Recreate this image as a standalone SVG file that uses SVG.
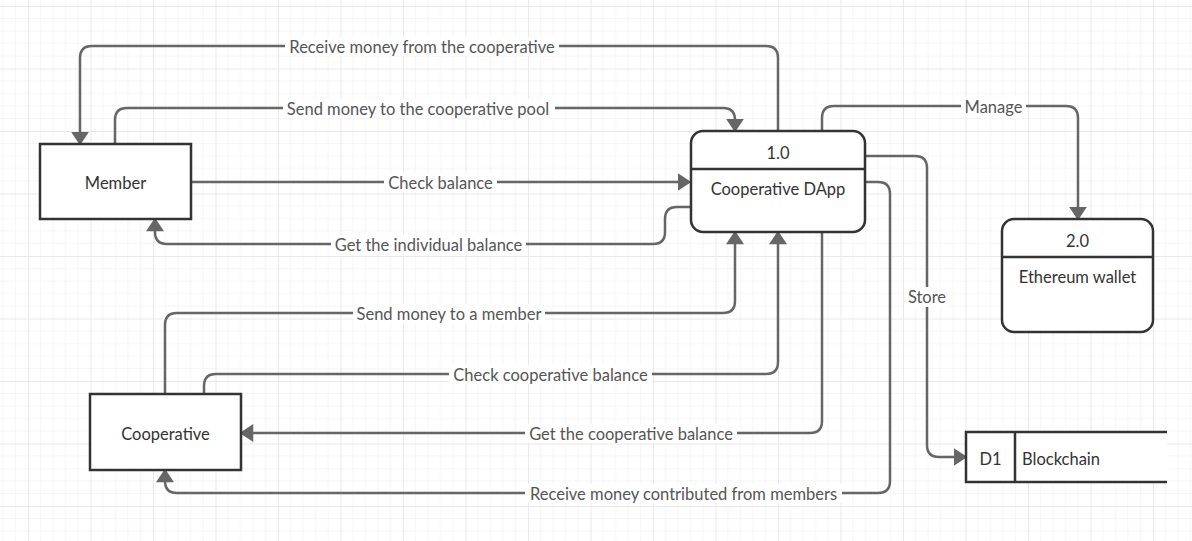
<svg xmlns="http://www.w3.org/2000/svg" width="1192" height="541" viewBox="0 0 1192 541">
<defs>
<pattern id="grid" x="28" y="6" width="62.5" height="62.5" patternUnits="userSpaceOnUse">
<path d="M12.5,0V62.5M25,0V62.5M37.5,0V62.5M50,0V62.5M0,12.5H62.5M0,25H62.5M0,37.5H62.5M0,50H62.5" stroke="#f5f5f5" stroke-width="1" fill="none"/>
<path d="M0.5,0V62.5M0,0.5H62.5" stroke="#e9e9e9" stroke-width="1" fill="none"/>
</pattern>
<marker id="arr" markerUnits="userSpaceOnUse" markerWidth="14" markerHeight="18" viewBox="0 0 12 16" refX="2" refY="8" orient="auto">
<path d="M0,0L12,8L0,16z" fill="#666"/>
</marker>
<style>
.box{fill:#fff;stroke:#333;stroke-width:2.5}
.c{fill:none;stroke:#666;stroke-width:2.5;marker-end:url(#arr)}
.nt{font-family:Lato,"Liberation Sans",sans-serif;font-size:16.5px;fill:#333;text-anchor:middle}
.lt{font-family:Lato,"Liberation Sans",sans-serif;font-size:16.5px;fill:#555;text-anchor:middle}
.bg{fill:#fff}
</style>
</defs>
<rect width="1192" height="541" fill="#fff"/>
<rect width="1192" height="541" fill="url(#grid)"/>
<g id="connectors">
<path class="c" d="M778,131V58Q778,46 766,46H92Q80,46 80,58V134"/>
<path class="c" d="M115,144V120Q115,108 127,108H723Q735,108 735,120V121"/>
<path class="c" d="M191,182H680"/>
<path class="c" d="M690,207H677Q665,207 665,219V232Q665,244 653,244H167Q155,244 155,232V229"/>
<path class="c" d="M165,394V325Q165,313 177,313H723Q735,313 735,301V242"/>
<path class="c" d="M204,394V386Q204,374 216,374H766Q778,374 778,362V242"/>
<path class="c" d="M822,232V421Q822,433 810,433H251"/>
<path class="c" d="M865,182H878Q890,182 890,194V481Q890,493 878,493H177Q165,493 165,481V480"/>
<path class="c" d="M865,156H915Q927,156 927,168V445Q927,457 939,457H956"/>
<path class="c" d="M822,131V118Q822,106 834,106H1066Q1078,106 1078,118V209"/>
<g id="labels">
<rect class="bg" x="285" y="37" width="274" height="19"/><text class="lt" x="422" y="53">Receive money from the cooperative</text>
<rect class="bg" x="283" y="99" width="272" height="19"/><text class="lt" x="418" y="115">Send money to the cooperative pool</text>
<rect class="bg" x="384" y="173" width="113" height="19"/><text class="lt" x="440.5" y="189">Check balance</text>
<rect class="bg" x="331" y="235" width="195" height="19"/><text class="lt" x="428.5" y="251">Get the individual balance</text>
<rect class="bg" x="353" y="304" width="192" height="19"/><text class="lt" x="449" y="320">Send money to a member</text>
<rect class="bg" x="449" y="365" width="203" height="19"/><text class="lt" x="550.5" y="381">Check cooperative balance</text>
<rect class="bg" x="525" y="424" width="212" height="19"/><text class="lt" x="631" y="440">Get the cooperative balance</text>
<rect class="bg" x="525" y="484" width="317" height="19"/><text class="lt" x="683.5" y="500">Receive money contributed from members</text>
<rect class="bg" x="961" y="97" width="65" height="19"/><text class="lt" x="993.5" y="113">Manage</text>
<rect class="bg" x="905" y="287" width="44" height="20"/><text class="lt" x="927" y="303">Store</text>
</g>
</g>
<g id="member">
<rect class="box" x="40" y="144" width="151" height="75"/>
<text class="nt" x="115.5" y="188.5">Member</text>
</g>
<g id="cooperative">
<rect class="box" x="90" y="394" width="151" height="76"/>
<text class="nt" x="165.5" y="439.5">Cooperative</text>
</g>
<g id="dapp">
<rect class="box" x="691" y="131" width="174" height="101" rx="12"/>
<path class="box" d="M691,169H865"/>
<text class="nt" x="778" y="158.5">1.0</text>
<text class="nt" x="778" y="195">Cooperative DApp</text>
</g>
<g id="wallet">
<rect class="box" x="1002" y="219" width="151" height="113" rx="12"/>
<path class="box" d="M1002,257H1153"/>
<text class="nt" x="1077.5" y="246.5">2.0</text>
<text class="nt" x="1077.5" y="282.5">Ethereum wallet</text>
</g>
<g id="blockchain">
<rect x="966" y="432" width="201" height="50" fill="#fff"/>
<path fill="none" stroke="#333" stroke-width="2.5" d="M1167,432H966V482H1167M1015,432V482"/>
<text class="nt" x="990.5" y="464.5">D1</text>
<text class="nt" x="1022" y="464.5" style="text-anchor:start">Blockchain</text>
</g>
</svg>
